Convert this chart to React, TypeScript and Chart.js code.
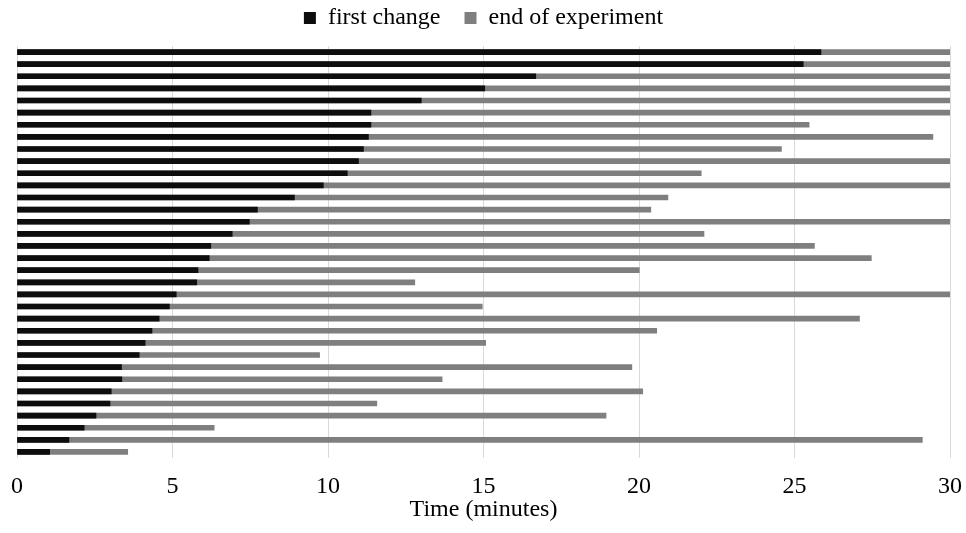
import React, { useEffect, useRef } from "react";
import { Chart, registerables } from "chart.js";

Chart.register(...registerables);

const categories = [
  "1", "2", "3", "4", "5", "6", "7", "8", "9", "10", "11", "12",
  "13", "14", "15", "16", "17", "18", "19", "20", "21", "22", "23", "24",
  "25", "26", "27", "28", "29", "30", "31", "32", "33", "34",
];

const firstChange = [
  25.85, 25.28, 16.68, 15.04, 13.0, 11.38, 11.38, 11.3, 11.14, 10.98, 10.62, 9.85,
  8.92, 7.73, 7.47, 6.92, 6.23, 6.18, 5.82, 5.78, 5.12, 4.9, 4.57, 4.34,
  4.12, 3.93, 3.36, 3.37, 3.03, 2.99, 2.54, 2.16, 1.67, 1.05,
];

const endOfExperiment = [
  30, 30, 30, 30, 30, 30, 25.47, 29.45, 24.58, 30, 22.0, 30,
  20.93, 20.38, 30, 22.09, 25.64, 27.47, 20.01, 12.79, 30, 14.96, 27.09, 20.57,
  15.07, 9.73, 19.77, 13.67, 20.12, 11.57, 18.94, 6.34, 29.11, 3.56,
];

const xTicks = [0, 5, 10, 15, 20, 25, 30];

const FONT = "'Liberation Serif', 'Times New Roman', Times, serif";

export default function App() {
  const ref = useRef<HTMLCanvasElement | null>(null);

  useEffect(() => {
    if (!ref.current) return;
    const chart = new Chart(ref.current, {
      type: "bar",
      data: {
        labels: categories,
        datasets: [
          {
            label: "first change",
            data: firstChange,
            backgroundColor: "#0d0d0d",
            borderWidth: 0,
            barThickness: 5,
            grouped: false,
          },
          {
            label: "end of experiment",
            data: endOfExperiment,
            backgroundColor: "#7f7f7f",
            borderWidth: 0,
            barThickness: 5,
            grouped: false,
          },
        ],
      },
      options: {
        indexAxis: "y",
        responsive: false,
        animation: false,
        layout: { padding: { left: 17, right: 16, top: -18, bottom: 0 } },
        plugins: {
          legend: {
            position: "top",
            weight: 1000,
            labels: {
              boxWidth: 12,
              boxHeight: 12,
              padding: 24,
              color: "#000",
              font: { family: FONT, size: 24 },
            },
          },
          subtitle: {
            display: true,
            text: "",
            weight: 500,
            padding: 0,
            font: { size: 6, lineHeight: 1 },
          },
          tooltip: { enabled: false },
        },
        scales: {
          x: {
            type: "linear",
            min: 0,
            max: 30,
            afterBuildTicks: (axis: any) => {
              axis.ticks = xTicks.map((v) => ({ value: v }));
            },
            grid: { color: "#d9d9d9", lineWidth: 1, drawTicks: false },
            border: { display: false },
            ticks: {
              padding: 4,
              color: "#000",
              font: { family: FONT, size: 24, lineHeight: 2.058 },
            },
            title: {
              display: true,
              text: "Time (minutes)",
              color: "#000",
              font: { family: FONT, size: 24, lineHeight: 1 },
              padding: { top: -17.4, bottom: 11 },
            },
          },
          y: {
            display: false,
            grid: { display: false },
          },
        },
      },
    });
    return () => chart.destroy();
  }, []);

  return (
    <div style={{ position: "fixed", left: 0, top: 0, width: 966, height: 533, background: "#fff" }}>
      <canvas ref={ref} width={966} height={533} style={{ display: "block" }} />
    </div>
  );
}
